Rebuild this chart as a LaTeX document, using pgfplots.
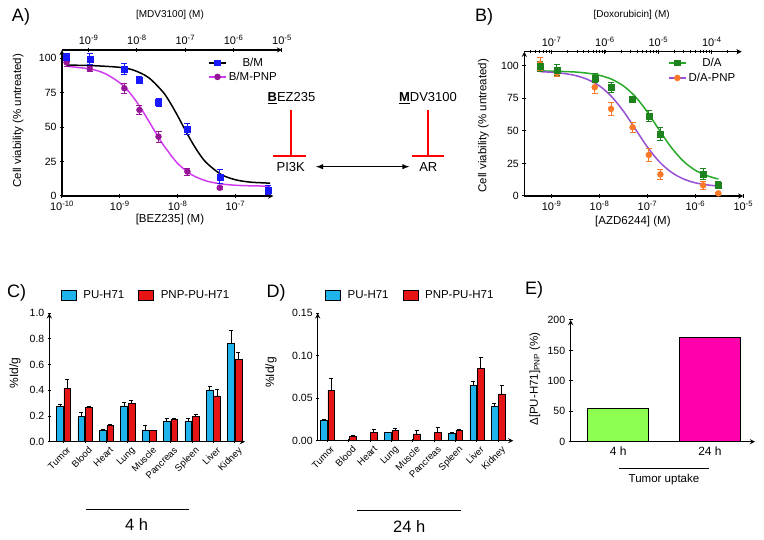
\documentclass[border=0pt]{standalone}
\usepackage{fontspec}
\setmainfont{Liberation Sans}
\usepackage{graphicx}
\usepackage{pgfplots}
\pgfplotsset{compat=1.18}
\definecolor{abl}{RGB}{25,25,255}
\definecolor{apu}{RGB}{150,20,150}
\definecolor{acu}{RGB}{210,60,240}
\definecolor{bgr}{RGB}{30,130,30}
\definecolor{bgl}{RGB}{40,170,40}
\definecolor{bor}{RGB}{250,120,40}
\definecolor{bvi}{RGB}{150,80,210}
\definecolor{cbl}{RGB}{30,180,235}
\definecolor{cre}{RGB}{230,20,20}
\definecolor{egr}{RGB}{140,255,80}
\definecolor{emg}{RGB}{255,0,170}
\newcommand{\fs}[1]{\fontsize{#1}{#1}\selectfont}
\pgfplotsset{
  gp/.style={scale only axis, axis line style={-, line width=1.3pt}, tick align=outside,
    major tick length=4pt, minor tick length=2.5pt, tick style={black, line width=1pt},
    minor tick style={line width=0.8pt},
    tick label style={font=\fs{10.5}}, label style={font=\fs{11.5}},
    /pgf/number format/assume math mode=true},
  logtick/.style={xticklabel style={font=\fs{11}}, xticklabel={10\textsuperscript{\pgfmathparse{int(round(\tick/2.302585093))}\pgfmathresult}}},
  sc/.style={only marks, mark size=3pt, error bars/.cd, y dir=both, y explicit,
    error bar style={line width=1pt, #1}, error mark options={rotate=90, mark size=3pt, line width=1pt, #1}},
  barax/.style={gp, ybar=0.7pt, bar width=6.7pt, axis x line=bottom, axis y line=left,
    xtick={0,1,...,8}, major x tick style={line width=0.8pt}, major tick length=3pt,
    xticklabels={Tumor,Blood,Heart,Lung,Muscle,Pancreas,Spleen,Liver,Kidney},
    xticklabel style={rotate=45, anchor=north east, font=\fs{9.5}, inner sep=1pt, yshift=-3pt, xshift=1pt},
    error bars/y dir=plus, error bars/y explicit,
    error bars/error bar style={line width=0.8pt, black},
    error bars/error mark options={rotate=90, mark size=2pt, line width=0.8pt, black},
    legend columns=2,
    legend style={draw=none, fill=none, font=\fs{11.5}, anchor=west,
      /tikz/every odd column/.append style={column sep=5pt},
      /tikz/every even column/.append style={column sep=12pt}},
    legend image code/.code={\draw[##1] (0pt,-5pt) rectangle (15pt,5pt);},
    ylabel={\%Id/g}, label style={font=\fs{12}}},
}
\begin{document}
\begin{tikzpicture}
\path[use as bounding box] (0pt,0pt) rectangle (764pt,540pt);
% ---------------- Panel A ----------------
\begin{axis}[gp, at={(62pt,344pt)}, anchor=south west, width=211.3pt, height=146pt,
  xmode=log, xmin=1e-10, xmax=4.53e-7, ymin=0, ymax=106,
  axis x line=bottom, axis y line=left, ytick={0,25,50,75,100}, logtick, clip=false,
  xlabel={[BEZ235] (M)}, xlabel style={at={(axis description cs:0.511,-0.164)}, anchor=center},
  ylabel={Cell viability (\% untreated)}, ylabel style={at={(axis description cs:-0.208,0.516)}, anchor=center},
  legend style={draw=none, fill=none, at={(axis description cs:0.677,0.973)}, anchor=north west, font=\fs{11.5}, row sep=0pt}]
\addlegendimage{black, line width=1.5pt, mark=square*, mark size=2.5pt, mark options={abl}}
\addlegendentry{B/M}
\addlegendimage{acu, line width=1.5pt, mark=*, mark size=2.5pt, mark options={apu}}
\addlegendentry{B/M-PNP}
\addplot[black, line width=1.5pt, smooth, no marks] coordinates {
(1.2e-10,95.0) (3.162e-10,94.7) (1e-9,93.4) (1.778e-9,91.2) (3.162e-9,85.9) (5.623e-9,75.4)
(7.499e-9,67.5) (1e-8,58.3) (1.334e-8,48.4) (1.778e-8,39.0) (2.371e-8,30.7) (3.162e-8,24.1)
(5.623e-8,15.7) (1e-7,11.8) (1.778e-7,10.1) (3.162e-7,9.5) (3.98e-7,9.3)};
\addplot[acu, line width=1.5pt, smooth, no marks] coordinates {
(1.2e-10,94.2) (3.162e-10,92.1) (5.623e-10,88.8) (1e-9,82.2) (1.334e-9,77.2) (1.778e-9,70.8)
(2.371e-9,63.1) (3.162e-9,54.5) (4.217e-9,45.7) (5.623e-9,37.3) (1e-8,23.7) (1.778e-8,15.3)
(3.162e-8,10.9) (5.623e-8,8.8) (1e-7,7.8) (1.778e-7,7.4) (3.162e-7,7.2) (3.98e-7,7.1)};
\addplot[mark=*, apu, sc=apu] coordinates {
(1.2e-10,97)+-(0,3) (3.02e-10,92.3)+-(0,2) (1.2e-9,78.2)+-(0,3.5) (2.19e-9,62.5)+-(0,3)
(4.68e-9,43.1)+-(0,4) (1.48e-8,17.7)+-(0,2.5) (5.37e-8,6.0)+-(0,1) (3.72e-7,3.5)+-(0,1)};
\addplot[mark=square*, abl, sc=abl] coordinates {
(1.2e-10,100.5)+-(0,3) (3.02e-10,99.3)+-(0,4) (1.2e-9,92.3)+-(0,4) (2.19e-9,84.0)+-(0,2.5)
(4.68e-9,67.8)+-(0,3) (1.48e-8,48.4)+-(0,4) (5.37e-8,14.0)+-(0,5) (3.72e-7,4.4)+-(0,3)};
\end{axis}
\begin{axis}[gp, at={(62pt,344pt)}, anchor=south west, width=220pt, height=146pt,
  xmode=log, xmin=2.818e-10, xmax=1e-5, ymin=0, ymax=106,
  axis x line=top, axis y line=none, logtick,
  xlabel={[MDV3100] (M)}, xlabel style={at={(axis description cs:0.491,1.24)}, anchor=center}]
\end{axis}
% diagram
\node[font=\fs{13}] at (291.5pt,441.7pt) {\underline{\textbf{B}}EZ235};
\node[font=\fs{13}] at (428pt,441.7pt) {\underline{\textbf{M}}DV3100};
\draw[red, line width=1.8pt] (291pt,430pt) -- (291pt,384.3pt) (273.3pt,384.3pt) -- (306pt,384.3pt);
\draw[red, line width=1.8pt] (428.3pt,430pt) -- (428.3pt,384.3pt) (411.7pt,384.3pt) -- (444pt,384.3pt);
\node[font=\fs{13}] at (290.7pt,373.3pt) {PI3K};
\node[font=\fs{13}] at (428.3pt,373.3pt) {AR};
\draw[black, line width=1.4pt, latex-latex] (316pt,373.3pt) -- (409.3pt,373.3pt);
% ---------------- Panel B ----------------
\begin{axis}[gp, at={(524.3pt,344pt)}, anchor=south west, width=219pt, height=144.3pt,
  xmode=log, xmin=2.69e-10, xmax=1e-5, ymin=0, ymax=110.7,
  axis x line=bottom, axis y line=left, ytick={0,25,50,75,100}, logtick, clip=false,
  xlabel={[AZD6244] (M)}, xlabel style={at={(axis description cs:0.496,-0.178)}, anchor=center},
  ylabel={Cell viability (\% untreated)}, ylabel style={at={(axis description cs:-0.187,0.487)}, anchor=center},
  legend style={draw=none, fill=none, at={(axis description cs:0.642,0.984)}, anchor=north west, font=\fs{11.5}, row sep=1pt}]
\addlegendimage{bgl, line width=1.5pt, mark=square*, mark size=2.5pt, mark options={bgr}}
\addlegendentry{D/A}
\addlegendimage{bvi, line width=1.5pt, mark=*, mark size=2.5pt, mark options={bor}}
\addlegendentry{D/A-PNP}
\addplot[bgl, line width=1.5pt, smooth, no marks] coordinates {
(5.75e-10,96.0) (1e-9,95.75) (1.778e-9,95.5) (3.162e-9,95.1) (5.623e-9,94.2) (1e-8,92.6)
(1.778e-8,89.6) (3.162e-8,84.4) (5.623e-8,76.1) (1e-7,64.3) (1.778e-7,50.4) (3.162e-7,37.1)
(5.623e-7,26.7) (1e-6,19.7) (1.778e-6,15.5) (3.02e-6,13.0)};
\addplot[bvi, line width=1.5pt, smooth, no marks] coordinates {
(5.75e-10,95.4) (1e-9,94.9) (1.778e-9,94.0) (3.162e-9,92.4) (5.623e-9,89.4) (1e-8,84.4)
(1.778e-8,76.3) (3.162e-8,65.0) (5.623e-8,51.25) (1e-7,37.5) (1.778e-7,26.2) (3.162e-7,18.2)
(5.623e-7,13.1) (1e-6,10.1) (1.778e-6,8.5) (3.02e-6,7.6)};
\addplot[mark=*, bor, sc=bor] coordinates {
(5.75e-10,101.3)+-(0,5) (1.29e-9,94.6)+-(0,3) (7.94e-9,83.4)+-(0,4.5) (1.74e-8,66.8)+-(0,5)
(4.90e-8,52.7)+-(0,4) (1.07e-7,31.5)+-(0,5) (1.86e-7,16.6)+-(0,4) (1.45e-6,8.2)+-(0,3) (3.02e-6,2.0)+-(0,1)};
\addplot[mark=square*, bgr, sc=bgr] coordinates {
(5.75e-10,99.2)+-(0,4) (1.29e-9,96.7)+-(0,4) (7.94e-9,90.3)+-(0,3.5) (1.74e-8,83.1)+-(0,4)
(4.90e-8,74.2)+-(0,2.5) (1.07e-7,61.4)+-(0,4) (1.86e-7,47.3)+-(0,5) (1.45e-6,16.9)+-(0,4.5) (3.02e-6,8.4)+-(0,3)};
\end{axis}
\begin{axis}[gp, at={(524.3pt,344pt)}, anchor=south west, width=217.4pt, height=144.3pt,
  xmode=log, xmin=3.09e-8, xmax=3.63e-4, ymin=0, ymax=110.7,
  axis x line=top, axis y line=none, logtick,
  xlabel={[Doxorubicin] (M)}, xlabel style={at={(axis description cs:0.494,1.254)}, anchor=center}]
\end{axis}
% ---------------- Panel C ----------------
\begin{axis}[barax, at={(49.3pt,98.3pt)}, anchor=south west, width=195.7pt, height=128.4pt,
  xmin=-0.67, xmax=8.48, ymin=0, ymax=1.0, ytick={0,0.2,...,1.0},
  yticklabel style={/pgf/number format/.cd, fixed, fixed zerofill, precision=1},
  ylabel style={at={(axis description cs:-0.175,0.537)}, anchor=center},
  legend style={at={(axis description cs:0.043,1.1425)}}]
\addplot[fill=cbl, draw=black, line width=0.5pt] coordinates {
(0,0.273)+-(0,0.018) (1,0.195)+-(0,0.030) (2,0.091)+-(0,0.008) (3,0.278)+-(0,0.026)
(4,0.091)+-(0,0.039) (5,0.161)+-(0,0.018) (6,0.161)+-(0,0.021) (7,0.403)+-(0,0.031) (8,0.766)+-(0,0.104)};
\addlegendentry{PU-H71}
\addplot[fill=cre, draw=black, line width=0.5pt] coordinates {
(0,0.418)+-(0,0.068) (1,0.268)+-(0,0.005) (2,0.125)+-(0,0.007) (3,0.299)+-(0,0.023)
(4,0.086)+-(0,0.005) (5,0.174)+-(0,0.008) (6,0.195)+-(0,0.021) (7,0.356)+-(0,0.052) (8,0.642)+-(0,0.054)};
\addlegendentry{PNP-PU-H71}
\end{axis}
% ---------------- Panel D ----------------
\begin{axis}[barax, at={(317.7pt,99.3pt)}, anchor=south west, width=195.6pt, height=127.4pt,
  xmin=-0.46, xmax=8.71, ymin=0, ymax=0.15, ytick={0,0.05,0.10,0.15},
  yticklabel style={/pgf/number format/.cd, fixed, fixed zerofill, precision=2},
  ylabel style={at={(axis description cs:-0.239,0.535)}, anchor=center},
  legend style={at={(axis description cs:0.022,1.1437)}}]
\addplot[fill=cbl, draw=black, line width=0.5pt] coordinates {
(0,0.024)+-(0,0.001) (3,0.0098)+-(0,0.0003) (6,0.0082)+-(0,0.002) (7,0.0652)+-(0,0.0048) (8,0.040)+-(0,0.004)};
\addlegendentry{PU-H71}
\addplot[fill=cre, draw=black, line width=0.5pt] coordinates {
(0,0.059)+-(0,0.014) (1,0.0047)+-(0,0.002) (2,0.0098)+-(0,0.0035) (3,0.0122)+-(0,0.002)
(4,0.0079)+-(0,0.004) (5,0.0098)+-(0,0.006) (6,0.0122)+-(0,0.0015) (7,0.0852)+-(0,0.013) (8,0.055)+-(0,0.0098)};
\addlegendentry{PNP-PU-H71}
\end{axis}
% ---------------- Panel E ----------------
\begin{axis}[gp, at={(570.7pt,98.3pt)}, anchor=south west, width=184.3pt, height=121.7pt,
  xmin=-0.517, xmax=1.49, ymin=0, ymax=200, axis x line=bottom, axis y line=left,
  xtick={0,1}, xticklabels={4 h,24 h}, xtick style={draw=none}, ytick={0,50,...,200},
  xticklabel style={font=\fs{12}},
  ylabel={Δ[PU-H71]\textsubscript{PNP} (\%)}, ylabel style={at={(axis description cs:-0.194,0.515)}, anchor=center}]
\addplot[ybar, bar width=61pt, fill=egr, draw=black, line width=0.9pt] coordinates {(0,55)};
\addplot[ybar, bar width=61pt, fill=emg, draw=black, line width=0.9pt] coordinates {(1,171.5)};
\end{axis}
% annotations
\draw[line width=1.2pt] (86pt,30.7pt) -- (189.3pt,30.7pt);
\node[font=\fs{16.5}] at (136.7pt,15pt) {4 h};
\draw[line width=1.2pt] (357.3pt,29.3pt) -- (460.7pt,29.3pt);
\node[font=\fs{16.5}] at (409.3pt,13.3pt) {24 h};
\draw[line width=1.2pt] (619pt,71.7pt) -- (709.3pt,71.7pt);
\node[font=\fs{11.5}] at (664pt,60.7pt) {Tumor uptake};
% panel letters
\node[font=\fs{18}] at (21pt,523.3pt) {A)};
\node[font=\fs{18}] at (484pt,523.3pt) {B)};
\node[font=\fs{18}] at (16.7pt,247.5pt) {C)};
\node[font=\fs{18}] at (276pt,246.7pt) {D)};
\node[font=\fs{18}] at (534pt,250pt) {E)};
\end{tikzpicture}
\end{document}
